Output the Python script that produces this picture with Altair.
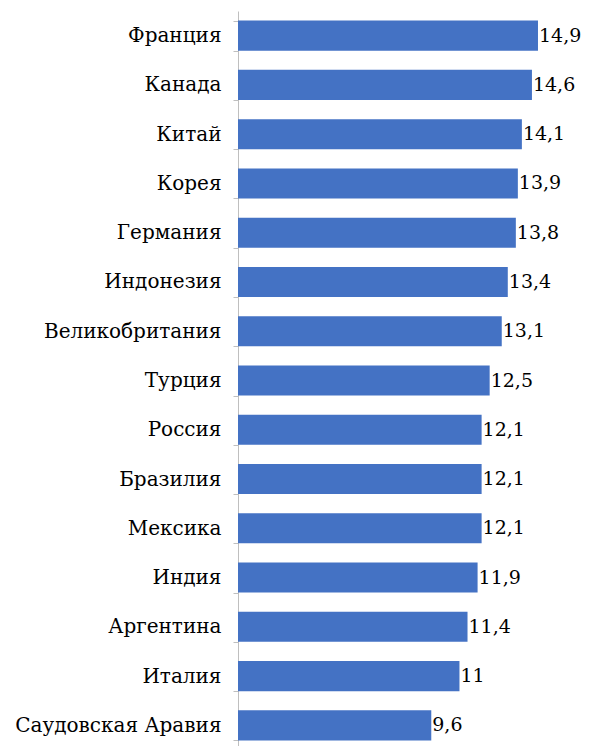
import altair as alt
import pandas as pd

countries = ["Франция", "Канада", "Китай", "Корея", "Германия", "Индонезия",
             "Великобритания", "Турция", "Россия", "Бразилия", "Мексика",
             "Индия", "Аргентина", "Италия", "Саудовская Аравия"]
values = [14.9, 14.6, 14.1, 13.9, 13.8, 13.4, 13.1, 12.5, 12.1, 12.1, 12.1,
          11.9, 11.4, 11.0, 9.6]
labels = ["14,9", "14,6", "14,1", "13,9", "13,8", "13,4", "13,1", "12,5",
          "12,1", "12,1", "12,1", "11,9", "11,4", "11", "9,6"]

df = pd.DataFrame({"country": countries, "value": values, "label": labels})

FONT = "DejaVu Serif"

y = alt.Y("country:N", sort=countries, title=None,
          scale=alt.Scale(paddingInner=0.39, paddingOuter=0.195),
          axis=alt.Axis(labelFont=FONT, labelFontSize=20, labelColor="#000000",
                        labelPadding=12, tickBand="extent", tickSize=5,
                        tickColor="#bfbfbf", domainColor="#bfbfbf",
                        domainWidth=1, tickWidth=1, grid=False, labelLimit=400))
x = alt.X("value:Q", title=None, scale=alt.Scale(domain=[0, 15], nice=False, zero=True),
          axis=None)

bars = alt.Chart(df).mark_bar(color="#4472C4").encode(x=x, y=y)
text = alt.Chart(df).mark_text(align="left", baseline="middle", dx=1, font=FONT,
                               fontSize=19, color="#000000").encode(
    x=x, y=alt.Y("country:N", sort=countries), text="label:N")

chart = (bars + text).properties(
    width=302, height=739,
    autosize=alt.AutoSizeParams(type="none"),
    padding={"left": 230, "top": 3, "right": 42, "bottom": 0},
).configure_view(stroke=None)

chart.save("out.html", embed_options={"renderer": "svg", "actions": False})
